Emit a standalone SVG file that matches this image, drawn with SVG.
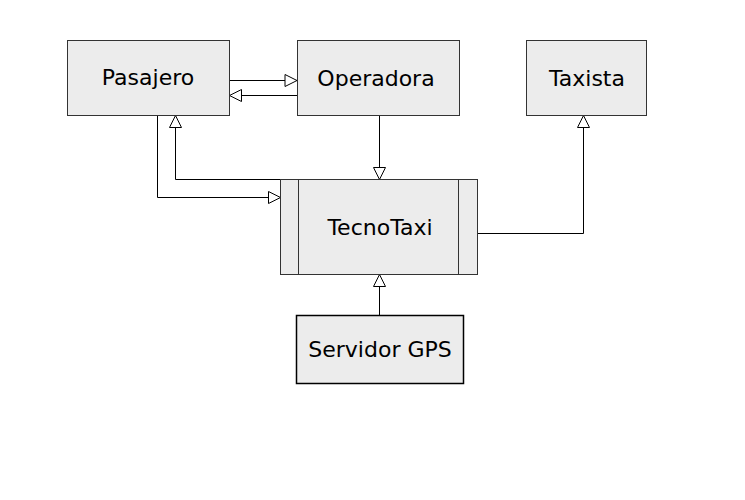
<svg xmlns="http://www.w3.org/2000/svg" width="745" height="500" viewBox="0 0 745 500">
<style>
.box{fill:#ececec;stroke:#333;stroke-width:1}
.lbl{font-family:"DejaVu Sans",sans-serif;font-size:22px;fill:#000;text-anchor:middle}
.con{fill:none;stroke:#000;stroke-width:1}
</style>
<defs>
<marker id="tri" viewBox="0 0 14 14" refX="13" refY="7" markerWidth="14" markerHeight="14" markerUnits="userSpaceOnUse" orient="auto">
<path d="M1,1 L13,7 L1,13 Z" fill="#fff" stroke="#000" stroke-width="1"/>
</marker>
</defs>
<rect width="745" height="500" fill="#fff"/>
<g id="connectors">
<path class="con" d="M229.5,80.5 H297" marker-end="url(#tri)"/>
<path class="con" d="M297,95.5 H229.5" marker-end="url(#tri)"/>
<path class="con" d="M379.5,115.5 V179.5" marker-end="url(#tri)"/>
<path class="con" d="M280.5,179.5 H175.5 V115.5" marker-end="url(#tri)"/>
<path class="con" d="M157.5,115.5 V197.5 H280.5" marker-end="url(#tri)"/>
<path class="con" d="M477.5,233.5 H583.5 V115.5" marker-end="url(#tri)"/>
<path class="con" d="M379.5,315 V274.5" marker-end="url(#tri)"/>
</g>
<g id="pasajero">
<rect class="box" x="67.5" y="40.5" width="162" height="75"/>
<text class="lbl" x="148" y="85">Pasajero</text>
</g>
<g id="operadora">
<rect class="box" x="297.5" y="40.5" width="162" height="75"/>
<text class="lbl" x="376" y="86">Operadora</text>
</g>
<g id="taxista">
<rect class="box" x="526.5" y="40.5" width="120" height="75"/>
<text class="lbl" x="587" y="86">Taxista</text>
</g>
<g id="tecnotaxi">
<rect class="box" x="280.5" y="179.5" width="197" height="95"/>
<line x1="298.5" y1="179.5" x2="298.5" y2="274.5" stroke="#333"/>
<line x1="458.5" y1="179.5" x2="458.5" y2="274.5" stroke="#333"/>
<text class="lbl" x="380" y="235">TecnoTaxi</text>
</g>
<g id="servidor">
<rect x="296.5" y="315.5" width="167" height="68" fill="#ececec" stroke="#000" stroke-width="1.5"/>
<text class="lbl" x="380" y="357">Servidor GPS</text>
</g>
</svg>
